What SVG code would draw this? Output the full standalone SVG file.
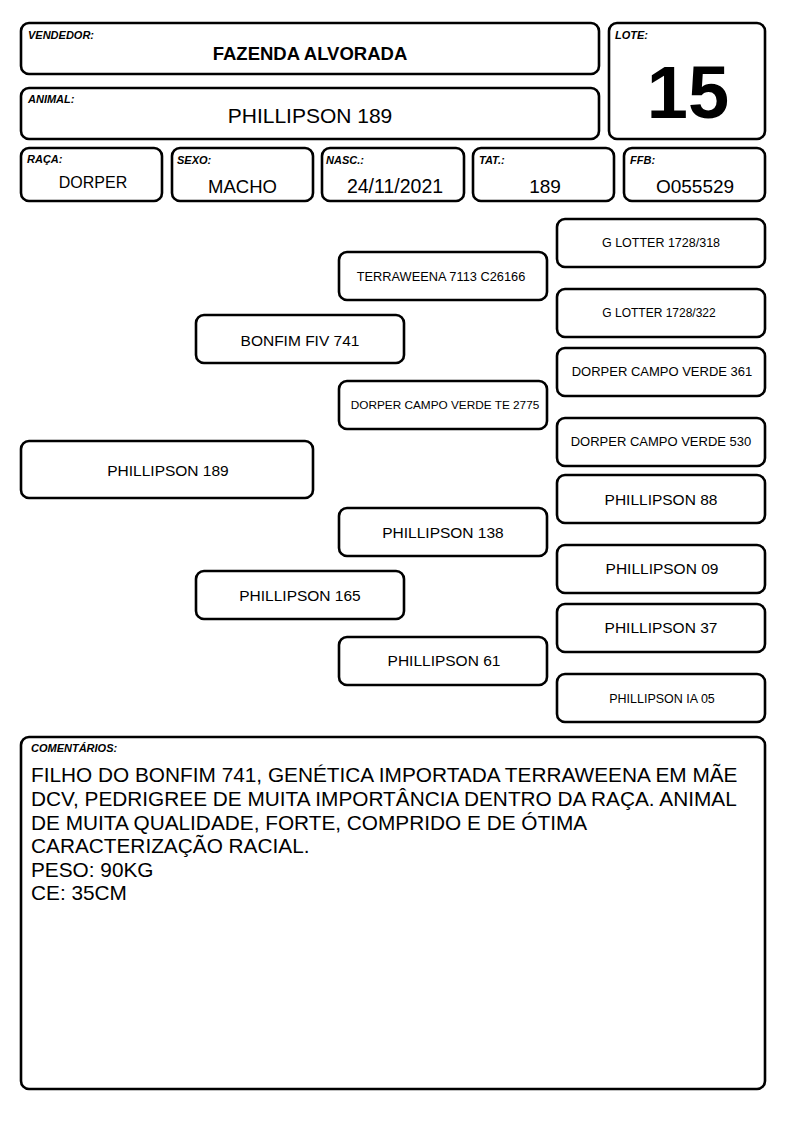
<svg xmlns="http://www.w3.org/2000/svg" width="794" height="1123" viewBox="0 0 794 1123">
<style>
rect.b{fill:#fff;stroke:#000;stroke-width:2.6}
text{font-family:"Liberation Sans",Arial,sans-serif;fill:#000}
.lbl{font-size:11px;font-weight:bold;font-style:italic}
.c{text-anchor:middle}
</style>
<rect width="794" height="1123" fill="#fff"/>
<g id="vendedor"><rect class="b" x="21" y="23" width="578" height="51" rx="8"/><text class="lbl" x="28" y="39">VENDEDOR:</text><text class="c" x="310" y="60" font-size="18.5" font-weight="bold">FAZENDA ALVORADA</text></g>
<g id="animal"><rect class="b" x="21" y="88" width="578" height="51" rx="8"/><text class="lbl" x="28" y="103">ANIMAL:</text><text class="c" x="310" y="123" font-size="21">PHILLIPSON 189</text></g>
<g id="lote"><rect class="b" x="609" y="23" width="156" height="116" rx="8"/><text class="lbl" x="615" y="39">LOTE:</text><text class="c" x="688" y="118" font-size="74" font-weight="bold">15</text></g>
<g id="raca"><rect class="b" x="21" y="148" width="141" height="53" rx="8"/><text class="lbl" x="27" y="163">RAÇA:</text><text class="c" x="93" y="188" font-size="16">DORPER</text></g>
<g id="sexo"><rect class="b" x="172" y="148" width="141" height="53" rx="8"/><text class="lbl" x="177" y="164">SEXO:</text><text class="c" x="242.5" y="193" font-size="18.5">MACHO</text></g>
<g id="nasc"><rect class="b" x="322" y="148" width="142" height="53" rx="8"/><text class="lbl" x="326" y="164">NASC.:</text><text class="c" x="395" y="193" font-size="19.5">24/11/2021</text></g>
<g id="tat"><rect class="b" x="473" y="148" width="141" height="53" rx="8"/><text class="lbl" x="479" y="164">TAT.:</text><text class="c" x="545" y="193" font-size="19">189</text></g>
<g id="ffb"><rect class="b" x="624" y="148" width="141" height="53" rx="8"/><text class="lbl" x="630" y="164">FFB:</text><text class="c" x="695" y="193" font-size="19">O055529</text></g>
<g id="connectors"></g>
<g id="p1"><rect class="b" x="21" y="441" width="292" height="57" rx="8"/><text class="c" x="168" y="475.5" font-size="15.5">PHILLIPSON 189</text></g>
<g id="p2a"><rect class="b" x="196" y="315" width="208" height="48" rx="8"/><text class="c" x="300" y="345.5" font-size="15.5">BONFIM FIV 741</text></g>
<g id="p2b"><rect class="b" x="196" y="571" width="208" height="48" rx="8"/><text class="c" x="300" y="600.5" font-size="15.5">PHILLIPSON 165</text></g>
<g id="p3a"><rect class="b" x="339" y="252" width="208" height="48" rx="8"/><text class="c" x="441" y="280.5" font-size="12.8">TERRAWEENA 7113 C26166</text></g>
<g id="p3b"><rect class="b" x="339" y="381" width="208" height="48" rx="8"/><text class="c" x="445" y="409.3" font-size="11.8">DORPER CAMPO VERDE TE 2775</text></g>
<g id="p3c"><rect class="b" x="339" y="508" width="208" height="48" rx="8"/><text class="c" x="443" y="537.5" font-size="15.5">PHILLIPSON 138</text></g>
<g id="p3d"><rect class="b" x="339" y="637" width="208" height="48" rx="8"/><text class="c" x="444" y="666" font-size="15.5">PHILLIPSON 61</text></g>
<g id="p4a"><rect class="b" x="557" y="219" width="208" height="48" rx="8"/><text class="c" x="661" y="246.5" font-size="12.5">G LOTTER 1728/318</text></g>
<g id="p4b"><rect class="b" x="557" y="289" width="208" height="48" rx="8"/><text class="c" x="659" y="317" font-size="12">G LOTTER 1728/322</text></g>
<g id="p4c"><rect class="b" x="557" y="348" width="208" height="48" rx="8"/><text class="c" x="662" y="376" font-size="13">DORPER CAMPO VERDE 361</text></g>
<g id="p4d"><rect class="b" x="557" y="418" width="208" height="48" rx="8"/><text class="c" x="661" y="446" font-size="13">DORPER CAMPO VERDE 530</text></g>
<g id="p4e"><rect class="b" x="557" y="475" width="208" height="48" rx="8"/><text class="c" x="661" y="504.5" font-size="15.5">PHILLIPSON 88</text></g>
<g id="p4f"><rect class="b" x="557" y="545" width="208" height="48" rx="8"/><text class="c" x="662" y="573.5" font-size="15.5">PHILLIPSON 09</text></g>
<g id="p4g"><rect class="b" x="557" y="604" width="208" height="48" rx="8"/><text class="c" x="661" y="633" font-size="15.5">PHILLIPSON 37</text></g>
<g id="p4h"><rect class="b" x="557" y="674" width="208" height="48" rx="8"/><text class="c" x="662" y="702.5" font-size="12.5">PHILLIPSON IA 05</text></g>
<g id="comentarios"><rect class="b" x="21" y="737" width="744" height="352" rx="8"/><text class="lbl" x="31" y="752">COMENTÁRIOS:</text>
<text font-size="20.8"><tspan x="31" y="782">FILHO DO BONFIM 741, GENÉTICA IMPORTADA TERRAWEENA EM MÃE</tspan><tspan x="31" y="806">DCV, PEDRIGREE DE MUITA IMPORTÂNCIA DENTRO DA RAÇA. ANIMAL</tspan><tspan x="31" y="830">DE MUITA QUALIDADE, FORTE, COMPRIDO E DE ÓTIMA</tspan><tspan x="31" y="853">CARACTERIZAÇÃO RACIAL.</tspan><tspan x="31" y="877">PESO: 90KG</tspan><tspan x="31" y="900">CE: 35CM</tspan></text></g>
</svg>
